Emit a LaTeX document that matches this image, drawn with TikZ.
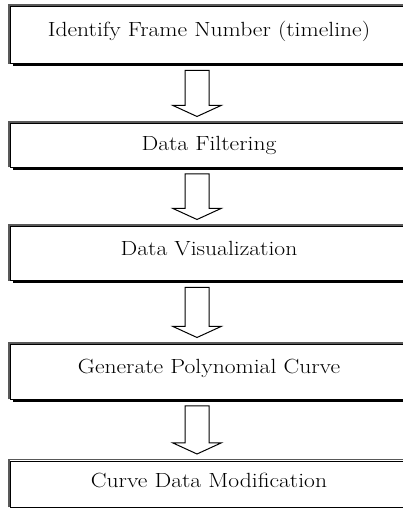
\documentclass[tikz,border=0pt]{standalone}
\usepackage{fontspec}
\setmainfont{Latin Modern Roman}[FakeStretch=1.15]
\usetikzlibrary{calc,shadows}

\tikzset{
  stagebox/.style={draw=black, line width=0.9pt, fill=white, inner sep=0pt, outer sep=0pt,
    anchor=north west, minimum width=398pt,
    drop shadow={shadow xshift=2.6pt, shadow yshift=-2.6pt, fill=black, opacity=1}},
  rim/.style={draw=black!65, line width=1.6pt},
  stagetext/.style={anchor=base, inner sep=0pt, font=\fontsize{20.5}{25}\selectfont},
  hollow/.style={draw=black, line width=1pt, fill=white, line join=miter,
    to path={ -- ($(\tikztostart)+(-12,0)$) -- ($(\tikztotarget)+(-12,11)$)
      -- ($(\tikztotarget)+(-24,11)$) -- (\tikztotarget)
      -- ($(\tikztotarget)+(24,11)$) -- ($(\tikztotarget)+(12,11)$)
      -- ($(\tikztostart)+(12,0)$) -- cycle}}
}

\begin{document}
\begin{tikzpicture}[x=1pt,y=1pt]
  \path[use as bounding box, clip] (0,0) rectangle (403,508);
  \fill[white] (0,0) rectangle (403,508);

  % the five stages, top to bottom
  \node[stagebox, minimum height=57pt]   (b1) at (10.8,501.5) {};
  \node[stagebox, minimum height=43.5pt] (b2) at (10.8,384.5) {};
  \node[stagebox, minimum height=54pt]   (b3) at (10.8,281.5) {};
  \node[stagebox, minimum height=54.5pt] (b4) at (10.8,163.5) {};
  \node[stagebox, minimum height=46pt]   (b5) at (10.8,47) {};

  % grey outer rim on the top and left sides
  \foreach \b in {b1,b2,b3,b4,b5}
    \draw[rim] ([shift={(-1.6,-0.4)}]\b.south west) |- ([yshift=1.5]\b.north east);

  % labels
  \node[stagetext] (t1) at ($(b1.north)+(-0.8,-30.5)$) {Identify Frame Number (timeline)};
  \node[stagetext] (t2) at ($(b2.north)+(-0.8,-27.5)$) {Data Filtering};
  \node[stagetext] (t3) at ($(b3.north)+(-0.8,-29.5)$) {Data Visualization};
  \node[stagetext] (t4) at ($(b4.north)+(-0.8,-29.5)$) {Generate Polynomial Curve};
  \node[stagetext] (t5) at ($(b5.north)+(-0.8,-27)$) {Curve Data Modification};

  % hollow block arrows between the stages
  \coordinate (ax) at (197,0);
  \foreach \u/\v in {b1/b2,b2/b3,b3/b4,b4/b5} {
    \coordinate (s) at ($(\u.south -| ax)+(0,-7)$);
    \coordinate (e) at ($(\v.north -| ax)+(0,7)$);
    \draw[hollow] (s) to (e);
  }
\end{tikzpicture}
\end{document}
